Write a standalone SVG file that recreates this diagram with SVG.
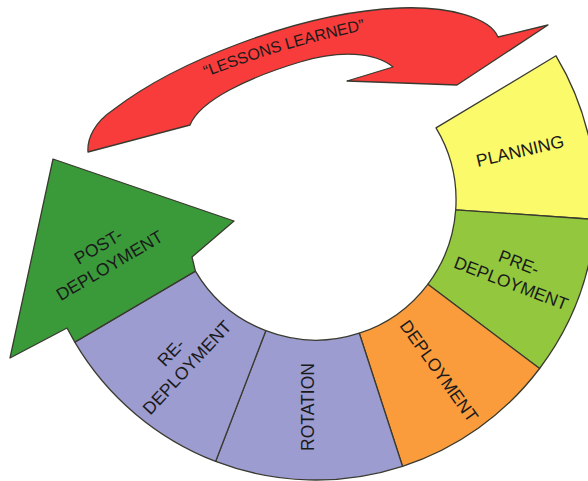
<svg xmlns="http://www.w3.org/2000/svg" width="588" height="481" viewBox="0 0 588 481">
<defs>
<style>
.seg{stroke:#3a3a30;stroke-width:1.3;stroke-linejoin:round}
.lbl{font-family:"Liberation Sans",Arial,sans-serif;font-size:17.5px;fill:#1a1a1a;text-anchor:middle}
.ll{font-family:"Liberation Sans",Arial,sans-serif;font-size:16px;fill:#1a1a1a}
</style>
<path id="llpath" d="M 206 77 Q 285 46 375 28"/>
</defs>
<rect width="588" height="481" fill="#ffffff"/>
<g id="lessons-learned">
<path class="seg" fill="#F83B3B" stroke="#5a2a2a" d="M 88 152 C 87 138 95 122 113 110 C 175 62 300 12 400 8 C 450 6 490 18 498 37 L 548 25 L 457 85 L 347 81 L 393 67 C 375 52 340 50 300 62 C 250 77 200 100 190 125 Z"/>
<text class="ll"><textPath href="#llpath">“LESSONS LEARNED”</textPath></text>
</g>
<g id="planning">
<path class="seg" fill="#FAFA6B" d="M 556.0 55.8 A 280 280 0 0 1 595.3 219.5 L 455.7 209.8 A 140 140 0 0 0 436.0 127.9 Z"/>
<text class="lbl" transform="translate(520,151) rotate(-13)" y="6">PLANNING</text>
</g>
<g id="pre-deployment">
<path class="seg" fill="#93C83E" d="M 595.3 219.5 A 280 280 0 0 1 539.6 368.5 L 427.8 284.3 A 140 140 0 0 0 455.7 209.8 Z"/>
<text class="lbl" transform="translate(515,273) rotate(21)"><tspan x="0" y="-5">PRE-</tspan><tspan x="0" y="17">DEPLOYMENT</tspan></text>
</g>
<g id="deployment">
<path class="seg" fill="#FB9C3C" d="M 539.6 368.5 A 280 280 0 0 1 402.5 466.3 L 359.3 333.2 A 140 140 0 0 0 427.8 284.3 Z"/>
<text class="lbl" transform="translate(439,371) rotate(54.5)" y="6">DEPLOYMENT</text>
</g>
<g id="rotation">
<path class="seg" fill="#9C9CD0" d="M 402.5 466.3 A 280 280 0 0 1 215.6 461.4 L 265.8 330.7 A 140 140 0 0 0 359.3 333.2 Z"/>
<text class="lbl" transform="translate(308,407) rotate(-90)" y="6">ROTATION</text>
</g>
<g id="re-deployment">
<path class="seg" fill="#9C9CD0" d="M 215.6 461.4 A 280 280 0 0 1 74.8 342.1 L 195.4 271.1 A 140 140 0 0 0 265.8 330.7 Z"/>
<text class="lbl" transform="translate(179,360) rotate(-47)"><tspan x="0" y="-5">RE-</tspan><tspan x="0" y="17">DEPLOYMENT</tspan></text>
</g>
<g id="post-deployment">
<path class="seg" fill="#3A9A3A" d="M 195.4 271.1 L 192 257 L 234 221 L 53 159 L 10 358 L 67 328 L 74.8 342.1 Z"/>
<text class="lbl" transform="translate(104,256) rotate(-30.5)"><tspan x="0" y="-5">POST-</tspan><tspan x="0" y="17">DEPLOYMENT</tspan></text>
</g>
<g id="connectors"></g>
</svg>
